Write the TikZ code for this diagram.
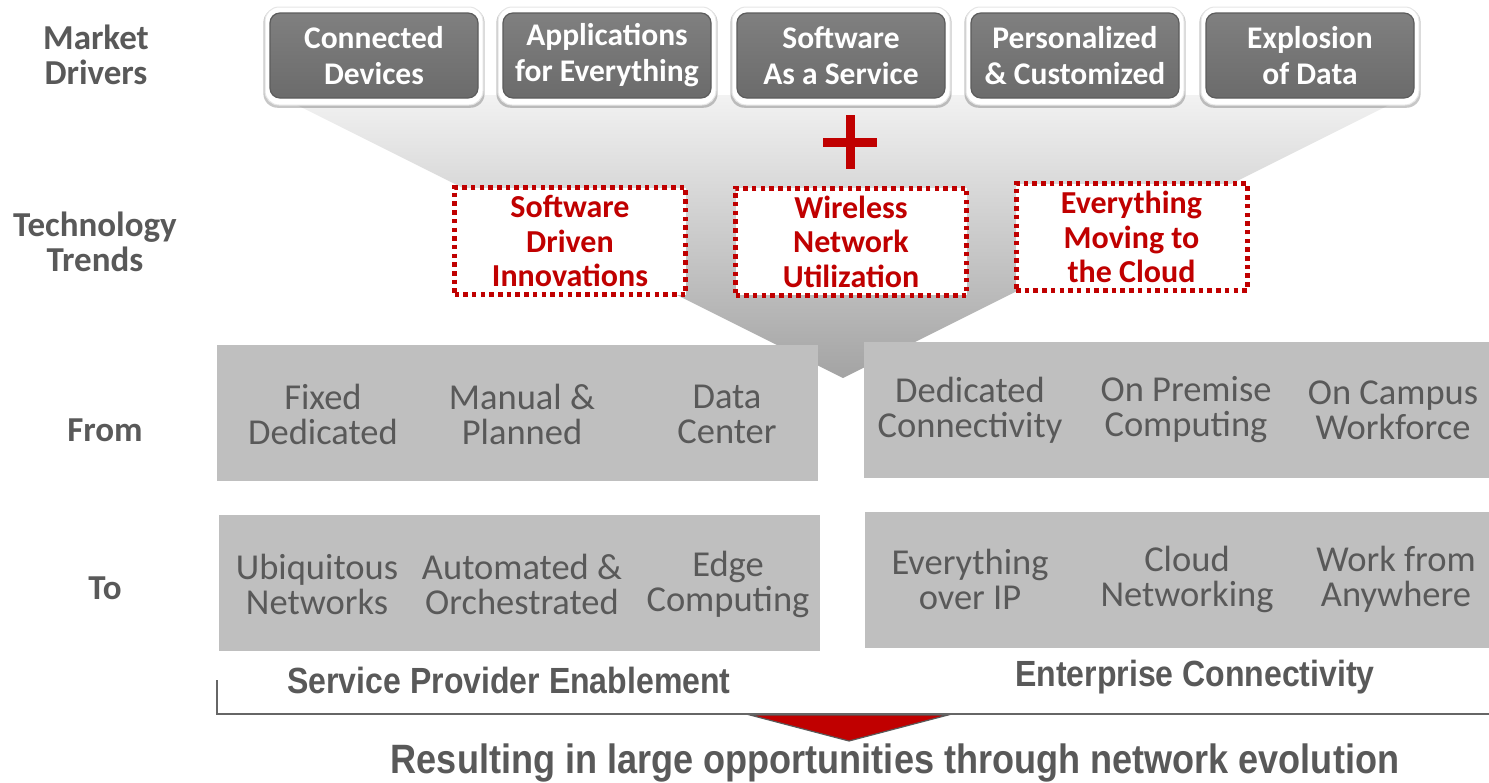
\documentclass[tikz,border=0pt]{standalone}
\usepackage{fontspec}
\setmainfont{Carlito}
\newfontfamily\arialfont{Liberation Sans}
\usepackage{graphicx}
\usetikzlibrary{positioning}
\usetikzlibrary{calc}
\usetikzlibrary{shadows}
\definecolor{labelgrey}{HTML}{595959}
\definecolor{blockgrey}{HTML}{BFBFBF}
\definecolor{trendred}{HTML}{C00000}
\tikzset{basic block/.style={inner sep=0pt,outer sep=0pt}}
\tikzset{row label/.style={basic block,
                           text=labelgrey,
                           align=center,
                           font=\bfseries\fontsize{35}{35}\selectfont}}
\tikzset{shift block/.style={basic block,fill=blockgrey,minimum height=136pt}}
\tikzset{shift text/.style={basic block,
                            text=labelgrey,
                            align=center,
                            font=\fontsize{36.5}{35}\selectfont}}
\newcommand{\narrowtext}[1]{\scalebox{0.88}[1]{#1}}

\begin{document}
\begin{tikzpicture}
    [
      x=1pt, y=-1pt,
      driver frame/.style={basic block,
      fill=white,
      draw=black!10,
      line width=1pt,
      rounded corners=14pt,
      minimum width=218pt,
      minimum height=98pt,
      drop shadow={shadow xshift=0pt,shadow yshift=-2pt,shadow scale=1.015,opacity=0.22,fill=black}},
      driver box/.style={basic block,
      rounded corners=10pt,
      minimum width=208pt,
      minimum height=85pt,
      top color=black!50,
      bottom color=black!58,
      draw=black!64,
      line width=1.2pt,
      text=white,
      align=center,
      font=\bfseries\fontsize{31.5}{36}\selectfont},
      trend box/.style={basic block,
      fill=white,
      draw=trendred,
      line width=5pt,
      dash pattern=on 4.5pt off 4.2pt,
      minimum width=231pt,
      minimum height=107pt,
      text=trendred,
      align=center,
      font=\bfseries\fontsize{32}{34.5}\selectfont},
      caption text/.style={basic block,text=labelgrey,font=\arialfont\bfseries\fontsize{36.4}{40}\selectfont},
    ]
    \useasboundingbox (0,0) rectangle (1489,782);

    % funnel
    \shade [top color=black!5,bottom color=black!36] (277,95) -- (1409,95) -- (843,378) -- cycle;

    % market drivers
    \node [driver frame] (F1) at (374,56) {};
    \node [driver frame] (F2) at (607,56) {};
    \node [driver frame] (F3) at (841,56) {};
    \node [driver frame] (F4) at (1075,56) {};
    \node [driver frame] (F5) at (1310,56) {};
    \node [driver box] (D1) at (374,55.5) {Connected\\Devices};
    \node [driver box] (D2) at (607,55.5) {Applications\\for Everything};
    \node [driver box] (D3) at (841,55.5) {Software\\As a Service};
    \node [driver box] (D4) at (1075,55.5) {Personalized\\\& Customized};
    \node [driver box] (D5) at (1310,55.5) {Explosion\\of Data};

    % plus
    \coordinate (plusC) at (850,142);
    \draw [trendred,line width=9pt] ($(plusC)+(0,-27)$) -- ($(plusC)+(0,27)$);
    \draw [trendred,line width=9pt] ($(plusC)+(-27,0)$) -- ($(plusC)+(27,0)$);

    % technology trends
    \node [trend box] (T1) at (570,241) {Software\\Driven\\Innovations};
    \node [trend box] (T2) at (851,241.5) {Wireless\\Network\\Utilization};
    \node [trend box] (T3) at (1131.5,237) {Everything\\Moving to\\the Cloud};

    % row labels
    \node [row label] (L1) at (96,55) {Market\\Drivers};
    \node [row label] (L2) at (95,242) {Technology\\Trends};
    \node [row label] (L3) at (105,430) {From};
    \node [row label] (L4) at (105,588) {To};

    % from / to blocks
    \node [shift block,minimum width=601pt] (B1) at (517.5,413) {};
    \node [shift block,minimum width=625pt] (B2) at (1176.5,409.5) {};
    \node [shift block,minimum width=601pt] (B3) at (519.5,583) {};
    \node [shift block,minimum width=624pt] (B4) at (1177,580) {};

    \node [shift text] (B11) at (323,414) {Fixed\\Dedicated};
    \node [shift text] (B12) at (522,414) {Manual \&\\Planned};
    \node [shift text] (B13) at (727,414) {Data\\Center};
    \node [shift text] (B21) at (970,410) {Dedicated\\Connectivity};
    \node [shift text] (B22) at (1186,410) {On Premise\\Computing};
    \node [shift text] (B23) at (1393,410) {On Campus\\Workforce};
    \node [shift text] (B31) at (317,584) {Ubiquitous\\Networks};
    \node [shift text] (B32) at (522,584) {Automated \&\\Orchestrated};
    \node [shift text] (B33) at (728,584) {Edge\\Computing};
    \node [shift text] (B41) at (970,579) {Everything\\over IP};
    \node [shift text] (B42) at (1187,579) {Cloud\\Networking};
    \node [shift text] (B43) at (1396,579) {Work from\\Anywhere};

    % result
    \node [caption text] (C1) at (509,680) {\narrowtext{Service Provider Enablement}};
    \node [caption text] (C2) at (1195,677) {\narrowtext{Enterprise Connectivity}};

    \coordinate (ruleTop) at (217,680);
    \coordinate (ruleL) at (217,714);
    \coordinate (ruleR) at (1489,714);
    \draw [fill=trendred,draw=labelgrey,line width=1.2pt] (750,715) -- (948,715) -- (849,741) -- cycle;
    \draw [black!60,line width=2pt] (ruleTop) -- (ruleL) -- (ruleR);

    \node [caption text,font=\arialfont\bfseries\fontsize{41}{44}\selectfont] (C3) at (895,763)
      {\narrowtext{Resulting in large opportunities through network evolution}};

  \end{tikzpicture}
\end{document}
